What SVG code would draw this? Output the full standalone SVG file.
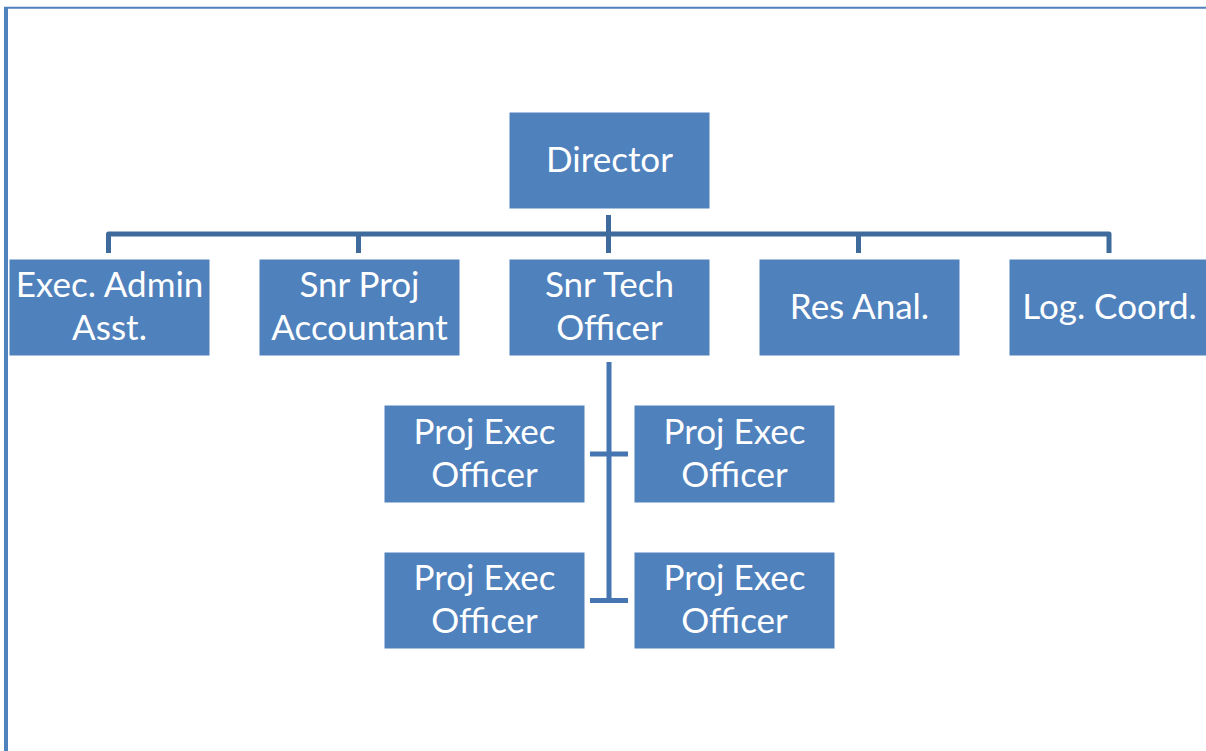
<svg xmlns="http://www.w3.org/2000/svg" width="1206" height="751" viewBox="0 0 1206 751">
<style>
.box{fill:#4f81bd;stroke:#ffffff;stroke-width:1}
.t{font-family:Lato,"Liberation Sans",sans-serif;font-size:35px;fill:#ffffff;text-anchor:middle}
.c1{fill:none;stroke:#3e6a9c;stroke-width:5;stroke-linejoin:round}
.c2{fill:none;stroke:#4676b2;stroke-width:5}
</style>
<rect width="1206" height="751" fill="#ffffff"/>
<g id="frame">
<line x1="6" y1="7" x2="6" y2="751" stroke="#4f81bd" stroke-width="4"/>
<line x1="4" y1="7.7" x2="1206" y2="7.7" stroke="#4f81bd" stroke-width="2"/>
</g>
<g id="connectors">
<line class="c1" x1="608.5" y1="215" x2="608.5" y2="253"/>
<path class="c1" d="M108.5 253 V234 H1109 V253"/>
<line class="c1" x1="358.5" y1="234" x2="358.5" y2="253"/>
<line class="c1" x1="858.5" y1="234" x2="858.5" y2="253"/>
<line class="c2" x1="609" y1="362" x2="609" y2="603"/>
<line class="c2" x1="590" y1="454" x2="628" y2="454"/>
<line class="c2" x1="590" y1="600.5" x2="628" y2="600.5"/>
</g>
<g id="director"><rect class="box" x="509" y="112" width="201" height="97"/><text class="t" x="609.5" y="172">Director</text></g>
<g id="exec-admin"><rect class="box" x="9" y="259" width="201" height="97"/><text class="t" x="109.5" y="297">Exec. Admin</text><text class="t" x="109.5" y="340">Asst.</text></g>
<g id="snr-proj-acc"><rect class="box" x="259" y="259" width="201" height="97"/><text class="t" x="359.5" y="297">Snr Proj</text><text class="t" x="359.5" y="340">Accountant</text></g>
<g id="snr-tech"><rect class="box" x="509" y="259" width="201" height="97"/><text class="t" x="609.5" y="297">Snr Tech</text><text class="t" x="609.5" y="340">Officer</text></g>
<g id="res-anal"><rect class="box" x="759" y="259" width="201" height="97"/><text class="t" x="859.5" y="319">Res Anal.</text></g>
<g id="log-coord"><rect class="box" x="1009" y="259" width="201" height="97"/><text class="t" x="1109.5" y="319">Log. Coord.</text></g>
<g id="peo1"><rect class="box" x="384" y="405" width="201" height="98"/><text class="t" x="484.5" y="444">Proj Exec</text><text class="t" x="484.5" y="487">Officer</text></g>
<g id="peo2"><rect class="box" x="634" y="405" width="201" height="98"/><text class="t" x="734.5" y="444">Proj Exec</text><text class="t" x="734.5" y="487">Officer</text></g>
<g id="peo3"><rect class="box" x="384" y="552" width="201" height="97"/><text class="t" x="484.5" y="590">Proj Exec</text><text class="t" x="484.5" y="633">Officer</text></g>
<g id="peo4"><rect class="box" x="634" y="552" width="201" height="97"/><text class="t" x="734.5" y="590">Proj Exec</text><text class="t" x="734.5" y="633">Officer</text></g>
</svg>
